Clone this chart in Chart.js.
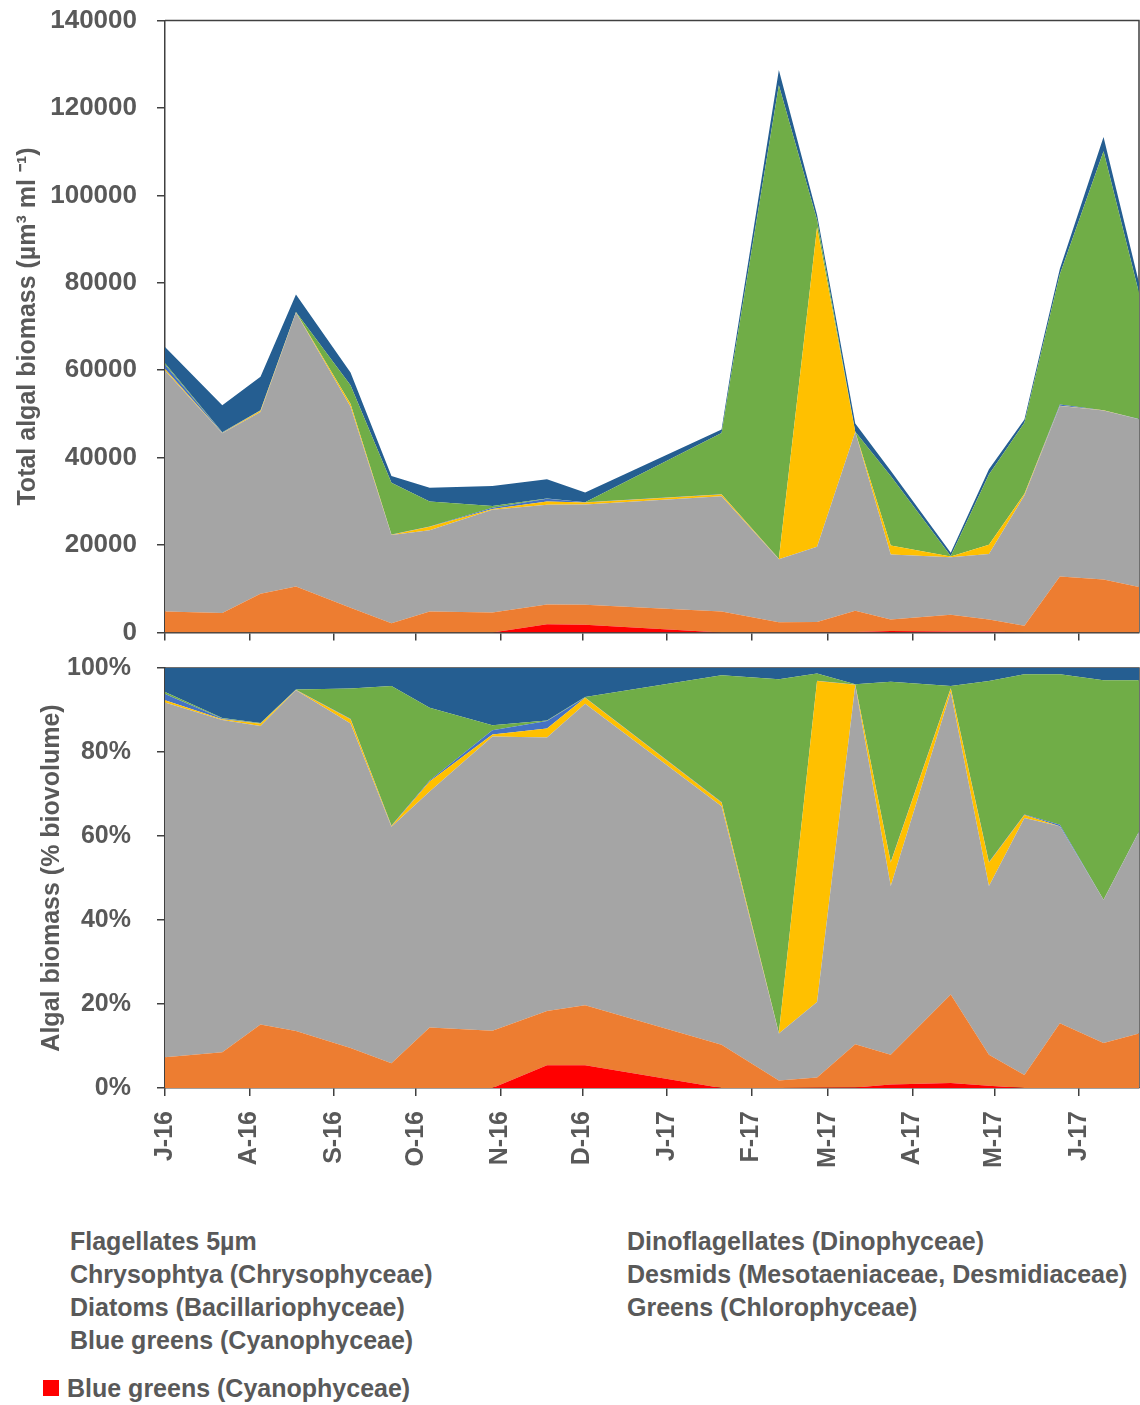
<!DOCTYPE html>
<html>
<head>
<meta charset="utf-8">
<script src="https://cdn.jsdelivr.net/npm/chart.js@4.4.1/dist/chart.umd.min.js"></script>
<style>
  html, body { margin:0; padding:0; background:#fff; }
  body { width:1140px; height:1405px; position:relative; overflow:hidden; font-family:'Liberation Sans', Arial, sans-serif; }
  #c1 { position:absolute; left:0; top:-15px; }
  #c2 { position:absolute; left:0; top:627px; }
  .leg { position:absolute; font-weight:bold; font-size:25px; color:#595959; line-height:30px; white-space:nowrap; }
  .sq { position:absolute; background:#FF0000; }
</style>
</head>
<body>
<canvas id="c1" width="1140" height="683"></canvas>
<canvas id="c2" width="1140" height="583"></canvas>

<div class="leg" style="left:70px; top:1226px;">Flagellates 5µm</div>
<div class="leg" style="left:70px; top:1259px;">Chrysophtya (Chrysophyceae)</div>
<div class="leg" style="left:70px; top:1292px;">Diatoms (Bacillariophyceae)</div>
<div class="leg" style="left:70px; top:1325px;">Blue greens (Cyanophyceae)</div>
<div class="leg" style="left:627px; top:1226px;">Dinoflagellates (Dinophyceae)</div>
<div class="leg" style="left:627px; top:1259px;">Desmids (Mesotaeniaceae, Desmidiaceae)</div>
<div class="leg" style="left:627px; top:1292px;">Greens (Chlorophyceae)</div>
<div class="sq" style="left:43px; top:1380px; width:16px; height:16px;"></div>
<div class="leg" style="left:67px; top:1373px;">Blue greens (Cyanophyceae)</div>

<script>
// ---- data (days since 1 Jul 2016) ----
const sampleDays = [0,21,35,48,68,83,97,120,140,154,204,225,239,253,266,288,302,315,328,344,357];

const blueGreens      = [0,0,0,0,0,0,0,0,1890,1730,0,0,50,70,300,220,210,0,0,0,0];
const flagellates     = [4770,4420,8830,10510,5650,2110,4770,4560,4520,4580,4780,2320,2340,4900,2630,3840,2740,1510,12810,12130,10400];
const diatoms         = [55180,41130,41590,62690,45990,20160,18600,23480,22820,22980,26360,14410,17210,40870,14870,13140,14990,29800,39020,38670,38400];
const dinoflagellates = [330,100,290,40,600,70,790,170,740,450,420,60,73040,50,2070,150,2090,340,40,20,0];
const desmids         = [980,100,60,40,60,40,70,340,630,30,50,60,50,20,40,20,40,50,290,30,40];
const greens          = [330,50,60,40,4280,11890,5730,400,40,30,14010,108370,1670,20,15870,90,16080,16270,29790,59250,28840];
const chrysophyta     = [3720,6190,7660,3980,2920,1540,3140,4560,4380,2210,790,3470,1240,1860,1220,780,1160,730,1250,3290,2320];

const tickDays   = [0,31,62,92,123,153,184,215,243,274,304,335];
const tickLabels = ['J-16','A-16','S-16','O-16','N-16','D-16','J-17','F-17','M-17','A-17','M-17','J-17'];
const xMax = 357;

const topTicks = [0,20000,40000,60000,80000,100000,120000,140000];
const pctTicks = [0,20,40,60,80,100];

// ---- styling ----
const series = [
  { name:'Blue greens (Cyanophyceae)', values: blueGreens, color:'#FF0000' },
  { name:'Flagellates 5µm', values: flagellates, color:'#ED7D31' },
  { name:'Diatoms (Bacillariophyceae)', values: diatoms, color:'#A5A5A5' },
  { name:'Dinoflagellates (Dinophyceae)', values: dinoflagellates, color:'#FFC000' },
  { name:'Desmids (Mesotaeniaceae, Desmidiaceae)', values: desmids, color:'#4472C4' },
  { name:'Greens (Chlorophyceae)', values: greens, color:'#70AD47' },
  { name:'Chrysophtya (Chrysophyceae)', values: chrysophyta, color:'#255E91' }
];

const TXT = '#595959';
const AX = '#404040';
const FAM = "'Liberation Sans', Arial, sans-serif";
Chart.defaults.font.family = FAM;

const totals = sampleDays.map((d, j) => series.reduce((s, ser) => s + ser.values[j], 0));

function makeDatasets(percent) {
  return series.map((ser, i) => ({
    label: ser.name,
    data: sampleDays.map((d, j) => ({ x: d, y: percent ? ser.values[j] / totals[j] * 100 : ser.values[j] })),
    backgroundColor: ser.color,
    borderColor: ser.color,
    borderWidth: 0,
    pointRadius: 0,
    pointHoverRadius: 0,
    tension: 0,
    fill: i === 0 ? 'origin' : '-1'
  }));
}

const framePlugin = {
  id: 'frame',
  beforeDatasetsDraw(chart) {
    const { ctx, chartArea: a } = chart;
    ctx.save();
    ctx.strokeStyle = AX;
    ctx.lineWidth = 1.5;
    ctx.beginPath();
    ctx.moveTo(a.left, a.top);
    ctx.lineTo(a.right, a.top);
    ctx.lineTo(a.right, a.bottom);
    ctx.stroke();
    ctx.restore();
  }
};

function xScale(showLabels, height) {
  return {
    type: 'linear',
    min: 0,
    max: xMax,
    afterBuildTicks: s => { s.ticks = tickDays.map(v => ({ value: v })); },
    afterFit: s => { s.height = height; },
    ticks: {
      display: showLabels,
      autoSkip: false,
      minRotation: 90,
      maxRotation: 90,
      padding: 15,
      color: TXT,
      font: { size: 25, weight: 'bold' },
      callback: v => { const i = tickDays.indexOf(v); return i >= 0 ? tickLabels[i] : ''; }
    },
    grid: { drawOnChartArea: false, drawTicks: true, tickLength: 8, color: AX, lineWidth: 1.5 },
    border: { display: true, color: AX, width: 1.5 }
  };
}

function yScale(opts) {
  return {
    stacked: true,
    min: 0,
    max: opts.max,
    afterBuildTicks: s => { s.ticks = opts.ticks.map(v => ({ value: v })); },
    afterFit: s => { s.width = 165; },
    ticks: {
      padding: opts.pad,
      color: TXT,
      font: { size: opts.fs, weight: 'bold' },
      callback: opts.fmt
    },
    grid: { drawOnChartArea: false, drawTicks: true, tickLength: 8, color: AX, lineWidth: 1.5 },
    border: { display: true, color: AX, width: 1.5 },
    title: {
      display: true,
      text: opts.title,
      color: TXT,
      font: { size: 25, weight: 'bold' },
      padding: { top: opts.tpad, bottom: 0 }
    }
  };
}

new Chart(document.getElementById('c1'), {
  type: 'line',
  data: { datasets: makeDatasets(false) },
  options: {
    responsive: false,
    animation: false,
    layout: { padding: { top: 20, right: 1, left: 0, bottom: 0 } },
    plugins: { legend: { display: false }, tooltip: { enabled: false } },
    scales: {
      x: xScale(false, 18),
      y: yScale({ max: 140000, ticks: topTicks, pad: 20, fs: 26, fmt: v => String(v), title: 'Total algal biomass (µm³ ml ⁻¹)', tpad: 13 })
    }
  },
  plugins: [framePlugin]
});

new Chart(document.getElementById('c2'), {
  type: 'line',
  data: { datasets: makeDatasets(true) },
  options: {
    responsive: false,
    animation: false,
    layout: { padding: { top: 17, right: 1, left: 0, bottom: 0 } },
    plugins: { legend: { display: false }, tooltip: { enabled: false } },
    scales: {
      x: xScale(true, 122),
      y: yScale({ max: 100, ticks: pctTicks, pad: 26, fs: 25, fmt: v => v + '%', title: 'Algal biomass (% biovolume)', tpad: 37 })
    }
  },
  plugins: [framePlugin]
});
</script>
</body>
</html>
